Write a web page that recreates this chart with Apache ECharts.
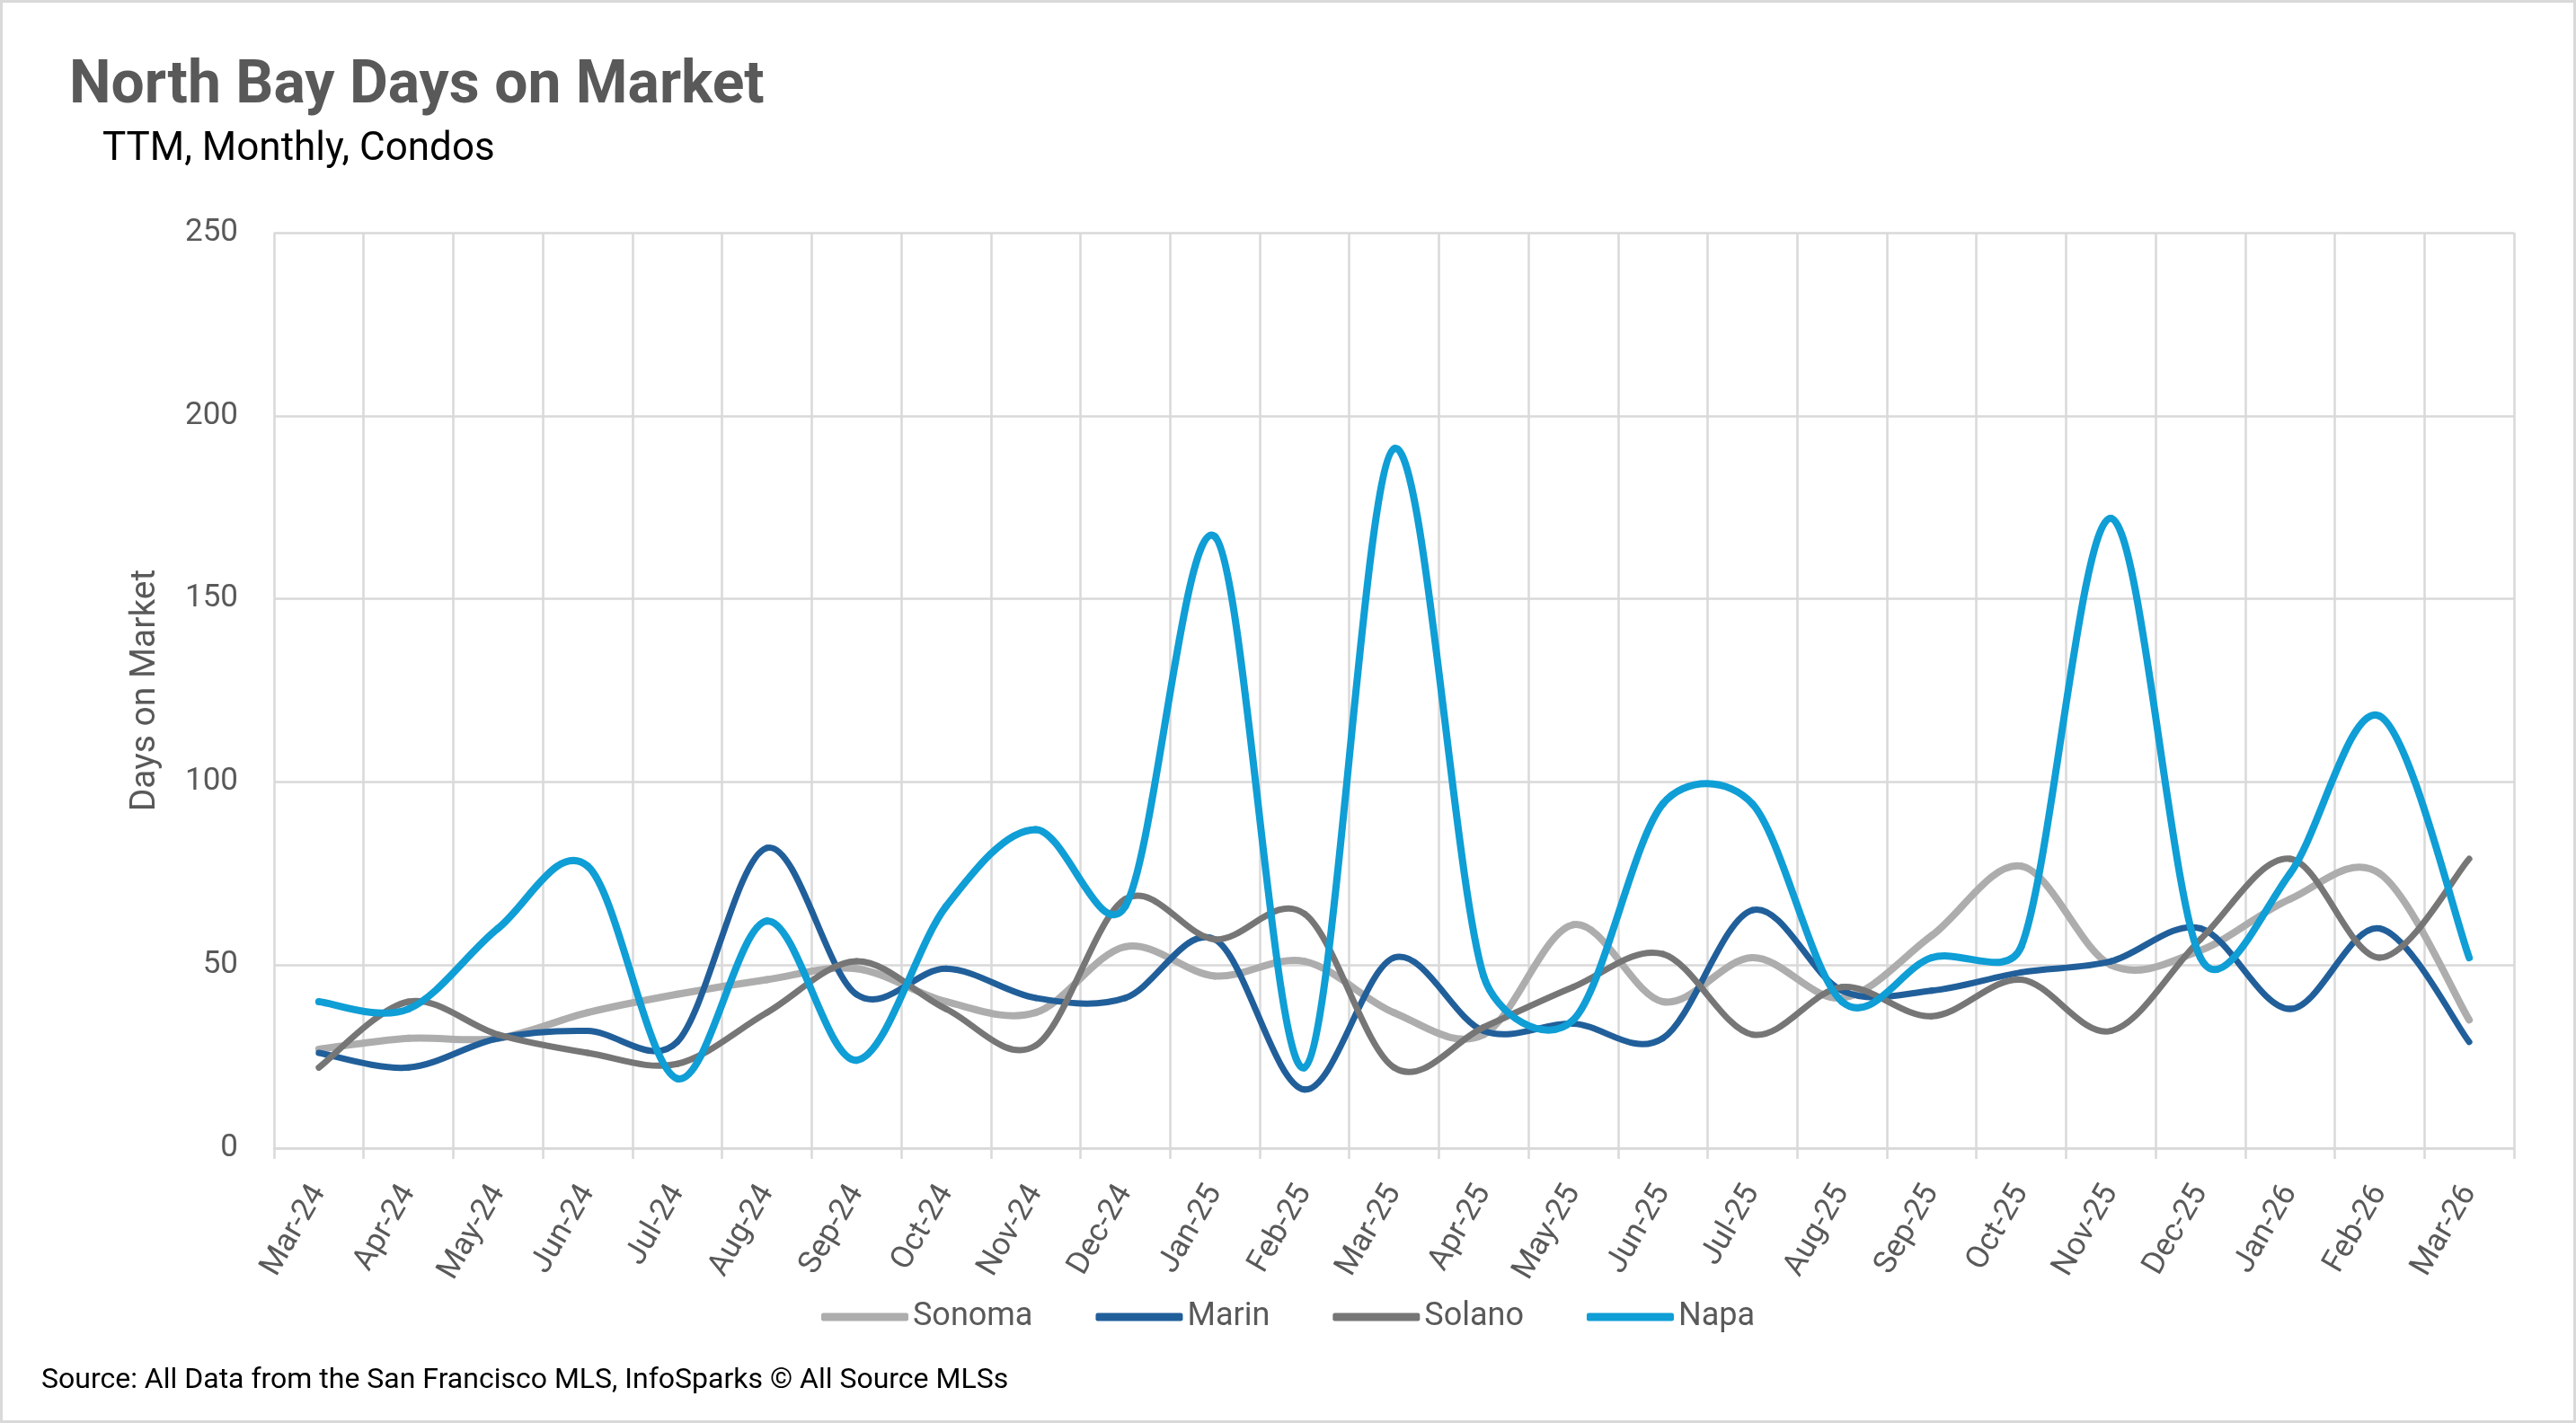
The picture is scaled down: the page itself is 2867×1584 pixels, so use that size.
<!DOCTYPE html>
<html>
<head>
<meta charset="utf-8">
<script src="https://cdn.jsdelivr.net/npm/echarts@6/dist/echarts.min.js"></script>
<style>
  html, body { margin: 0; padding: 0; background: #ffffff; }
  #chart { width: 2867px; height: 1584px; }
</style>
</head>
<body>
<div id="chart"></div>
<script>
const months = ['Mar-24','Apr-24','May-24','Jun-24','Jul-24','Aug-24','Sep-24','Oct-24','Nov-24','Dec-24',
  'Jan-25','Feb-25','Mar-25','Apr-25','May-25','Jun-25','Jul-25','Aug-25','Sep-25','Oct-25','Nov-25','Dec-25',
  'Jan-26','Feb-26','Mar-26'];
const sonoma = [27, 30, 30, 37, 42, 46, 49, 40, 37, 55, 47, 51, 37, 31, 61, 40, 52, 41, 58, 77, 50, 54, 68, 75, 35];
const marin  = [26, 22, 30, 32, 29, 82, 42, 49, 41, 41, 57, 16, 52, 32, 34, 30, 65, 43, 43, 48, 51, 60, 38, 60, 29];
const solano = [22, 40, 31, 26, 23, 37, 51, 38, 28, 68, 57, 64, 22, 33, 44, 53, 31, 44, 36, 46, 32, 57, 79, 52, 79];
const napa   = [40, 38, 60, 77, 19, 62, 24, 66, 87, 66, 167, 22, 191, 47, 35, 94, 94, 40, 52, 55, 172, 52, 75, 118, 52];
const yTicks = [0, 50, 100, 150, 200, 250];

const FONT = 'Roboto, "Liberation Sans", sans-serif';
const GRID = '#d9d9d9';
const TXT = '#595959';

const chart = echarts.init(document.getElementById('chart'), null, { renderer: 'canvas' });

// Spreadsheet-style smoothed line: Catmull-Rom tangents with control arms limited
// relative to the segment length. Every point is placed through the chart axes (api.coord).
function smoothSeries(name, values, color, width) {
  const n = values.length;
  const LIMIT = 0.4;
  return {
    name: name, type: 'custom', coordinateSystem: 'cartesian2d',
    data: values.map(function (v, i) { return [i, v]; }),
    encode: { x: 0, y: 1 },
    itemStyle: { color: color },
    emphasis: { disabled: true },
    renderItem: function (params, api) {
      const i = params.dataIndex;
      if (i >= n - 1) return null;
      function P(k) {
        const j = Math.max(0, Math.min(n - 1, k));
        return api.coord([j, values[j]]);
      }
      const p0 = P(i - 1), p1 = P(i), p2 = P(i + 1), p3 = P(i + 2);
      const segLen = Math.hypot(p2[0] - p1[0], p2[1] - p1[1]);
      function arm(a, b) {
        let ax = (b[0] - a[0]) / 6, ay = (b[1] - a[1]) / 6;
        const len = Math.hypot(ax, ay);
        const maxLen = LIMIT * segLen;
        if (len > maxLen && len > 0) { ax *= maxLen / len; ay *= maxLen / len; }
        return [ax, ay];
      }
      const a1 = arm(p0, p2), a2 = arm(p1, p3);
      return {
        type: 'bezierCurve',
        shape: {
          x1: p1[0], y1: p1[1],
          cpx1: p1[0] + a1[0], cpy1: p1[1] + a1[1],
          cpx2: p2[0] - a2[0], cpy2: p2[1] - a2[1],
          x2: p2[0], y2: p2[1]
        },
        style: { stroke: color, lineWidth: width, lineCap: 'round', lineJoin: 'round', fill: null }
      };
    }
  };
}

chart.setOption({
  animation: false,
  backgroundColor: '#ffffff',
  title: [
    { text: 'North Bay Days on Market', left: 72, top: 59,
      textStyle: { fontFamily: FONT, fontSize: 66, fontWeight: 'bold', color: TXT } },
    { text: 'TTM, Monthly, Condos', left: 109, top: 140,
      textStyle: { fontFamily: FONT, fontSize: 44, fontWeight: 'normal', color: '#000000' } }
  ],
  legend: {
    data: ['Sonoma', 'Marin', 'Solano', 'Napa'],
    left: 'center', top: 1443,
    icon: 'roundRect', itemWidth: 97, itemHeight: 9, itemGap: 70,
    textStyle: { fontFamily: FONT, fontSize: 36, color: TXT }
  },
  grid: { left: 305, right: 69, top: 259, bottom: 306, containLabel: false },
  xAxis: {
    type: 'category', data: months, boundaryGap: true,
    axisLine: { show: true, lineStyle: { color: GRID, width: 2.5 } },
    axisTick: { show: true, interval: 0, length: 12, lineStyle: { color: GRID, width: 2.5 } },
    splitLine: { show: true, interval: 0, lineStyle: { color: GRID, width: 2.5 } },
    axisLabel: { interval: 0, rotate: 60, margin: 44, fontFamily: FONT, fontSize: 35, color: TXT }
  },
  yAxis: {
    type: 'value', min: yTicks[0], max: yTicks[yTicks.length - 1], interval: 50,
    name: 'Days on Market', nameLocation: 'middle', nameGap: 123,
    nameTextStyle: { fontFamily: FONT, fontSize: 39, color: TXT },
    axisLine: { show: false }, axisTick: { show: false },
    splitLine: { show: true, lineStyle: { color: GRID, width: 2.5 } },
    axisLabel: { margin: 40, fontFamily: FONT, fontSize: 35, color: TXT }
  },
  graphic: [
    { type: 'rect', shape: { x: 1.5, y: 1.5, width: 2864, height: 1581 },
      style: { fill: null, stroke: GRID, lineWidth: 3 }, silent: true },
    { type: 'text', left: 46, top: 1521,
      style: { text: 'Source: All Data from the San Francisco MLS, InfoSparks © All Source MLSs',
               fontFamily: FONT, fontSize: 32, fill: '#000000' } }
  ],
  series: [
    smoothSeries('Sonoma', sonoma, '#adadad', 8),
    smoothSeries('Marin', marin, '#215f9a', 7),
    smoothSeries('Solano', solano, '#767676', 7),
    smoothSeries('Napa', napa, '#0f9ed5', 8)
  ]
});
</script>
</body>
</html>
